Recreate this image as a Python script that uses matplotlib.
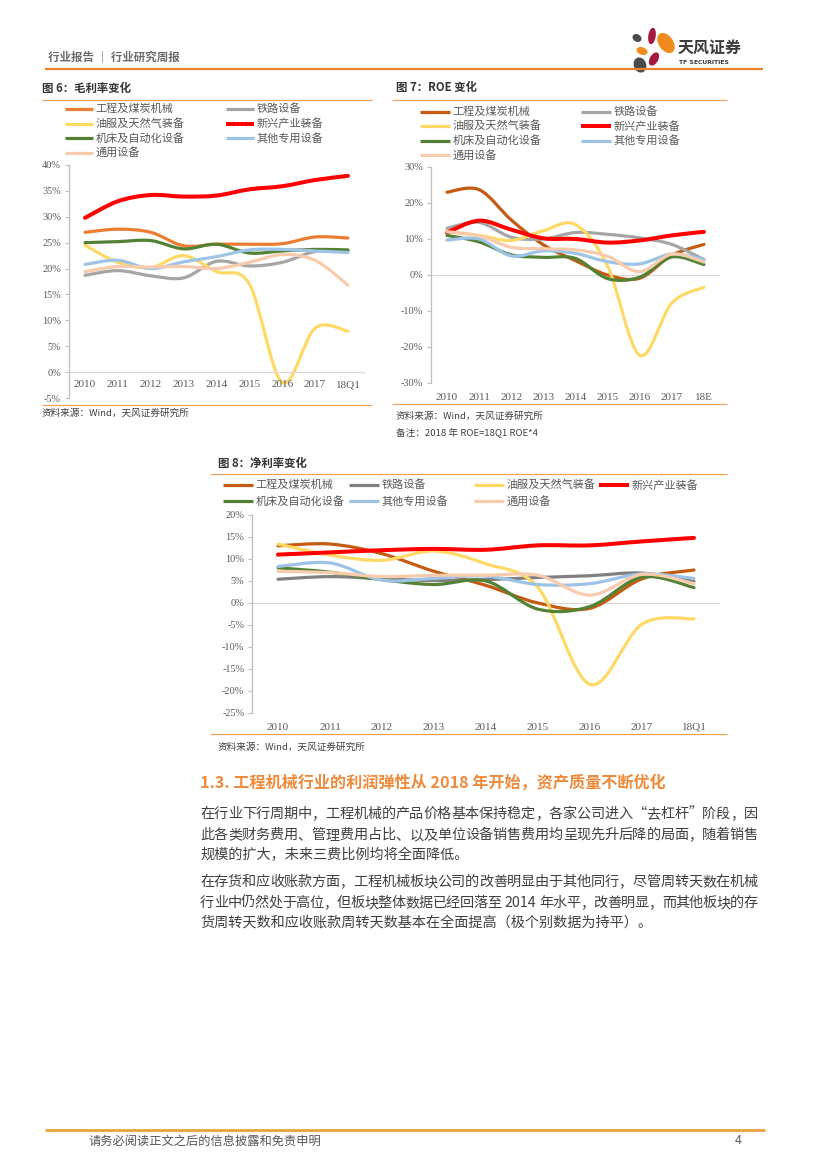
import re
import numpy as np
import matplotlib
matplotlib.use("Agg")
import matplotlib.pyplot as plt
from matplotlib.path import Path
from matplotlib.patches import PathPatch, Ellipse
from matplotlib.lines import Line2D

CJK = ['Noto Sans CJK SC', 'DejaVu Sans']
plt.rcParams['font.family'] = CJK
plt.rcParams['axes.unicode_minus'] = False

# ---------------- data ----------------
series_names = ['工程及煤炭机械', '铁路设备', '油服及天然气装备', '新兴产业装备',
                '机床及自动化设备', '其他专用设备', '通用设备']
years_gm = ['2010', '2011', '2012', '2013', '2014', '2015', '2016', '2017', '18Q1']
years_roe = ['2010', '2011', '2012', '2013', '2014', '2015', '2016', '2017', '18E']
years_npm = ['2010', '2011', '2012', '2013', '2014', '2015', '2016', '2017', '18Q1']

# 图6 毛利率 (%)
gm_gcjx = [27.0, 27.6, 27.0, 24.4, 24.7, 24.7, 24.8, 26.1, 25.9]
gm_tl = [18.7, 19.6, 18.6, 18.2, 21.4, 20.5, 21.2, 23.3, 23.5]
gm_yf = [24.5, 21.2, 20.2, 22.5, 19.4, 17.0, -2.0, 8.5, 7.9]
gm_xx = [29.8, 33.0, 34.2, 33.9, 34.1, 35.3, 35.9, 37.1, 37.9]
gm_jc = [25.0, 25.2, 25.4, 23.8, 24.7, 23.0, 23.4, 23.7, 23.6]
gm_qt = [20.8, 21.6, 20.0, 21.3, 22.3, 23.6, 23.7, 23.4, 23.1]
gm_ty = [19.4, 20.4, 20.3, 20.4, 20.0, 21.2, 22.7, 21.6, 16.8]

# 图7 ROE (%)
roe_gcjx = [23.0, 23.7, 15.3, 8.4, 4.0, 0.0, -0.9, 5.5, 8.5]
roe_tl = [13.0, 14.6, 10.5, 10.0, 11.8, 11.3, 10.3, 8.5, 4.3]
roe_yf = [12.0, 11.0, 9.6, 12.3, 14.0, 2.5, -22.3, -7.8, -3.4]
roe_xx = [11.8, 15.1, 12.6, 10.2, 10.0, 9.0, 9.6, 11.0, 12.0]
roe_jc = [11.0, 9.2, 5.6, 4.9, 4.6, -1.0, -0.6, 5.0, 2.9]
roe_qt = [9.7, 10.0, 5.3, 6.7, 6.0, 3.7, 3.1, 5.8, 4.4]
roe_ty = [12.0, 10.9, 7.7, 7.3, 7.0, 5.2, 0.9, 5.8, 3.6]

# 图8 净利率 (%)
npm_gcjx = [13.0, 13.4, 11.2, 7.2, 4.0, 0.0, -1.2, 5.5, 7.5]
npm_tl = [5.4, 6.0, 5.5, 5.1, 5.3, 5.8, 6.2, 6.8, 4.9]
npm_yf = [13.4, 10.9, 9.7, 11.8, 8.9, 3.5, -18.5, -4.8, -3.6]
npm_xx = [11.0, 11.5, 12.0, 12.3, 12.1, 13.1, 13.1, 14.0, 14.8]
npm_jc = [8.0, 7.0, 5.3, 4.2, 5.0, -1.4, -0.8, 5.9, 3.5]
npm_qt = [8.3, 9.1, 5.2, 5.6, 6.1, 4.2, 4.4, 6.6, 5.6]
npm_ty = [7.2, 6.9, 6.0, 6.3, 6.3, 6.3, 1.8, 6.5, 4.4]

yticks_gm = [-5, 0, 5, 10, 15, 20, 25, 30, 35, 40]
yticks_roe = [-30, -20, -10, 0, 10, 20, 30]
yticks_npm = [-25, -20, -15, -10, -5, 0, 5, 10, 15, 20]

# ---------------- styling ----------------
W, H = 827, 1169
fig = plt.figure(figsize=(W / 100, H / 100), dpi=100)
fig.patch.set_facecolor('white')
renderer = fig.canvas.get_renderer()

def fx(x):
    return x / W

def fy(y):
    return 1 - y / H

def hline(x0, x1, y, color, lw):
    fig.add_artist(Line2D([fx(x0), fx(x1)], [fy(y), fy(y)], color=color, lw=lw,
                          transform=fig.transFigure, solid_capstyle='butt'))

def ftext(x, y, s, **kw):
    kw.setdefault('va', 'center')
    kw.setdefault('ha', 'left')
    return fig.text(fx(x), fy(y), s, **kw)

ORANGE_LINE = '#F0A15E'
TXT = '#404040'
TICK = '#595959'

colors_a = ['#ED7D31', '#A5A5A5', '#FFD966', '#FF0000', '#548235', '#9DC3E6', '#F8CBAD']
colors_b = ['#C55A11', '#A5A5A5', '#FFD966', '#FF0000', '#548235', '#9DC3E6', '#F8CBAD']
colors_c = ['#C55A11', '#808080', '#FFD966', '#FF0000', '#548235', '#9DC3E6', '#F8CBAD']
lws = [2.3, 2.3, 2.3, 2.9, 2.3, 2.3, 2.3]


def smooth_path(xs, ys, t=1.0 / 6):
    pts = np.column_stack([xs, ys]).astype(float)
    n = len(pts)
    verts = [pts[0]]
    codes = [Path.MOVETO]
    for i in range(n - 1):
        p0 = pts[i - 1] if i > 0 else pts[i]
        p1 = pts[i]
        p2 = pts[i + 1]
        p3 = pts[i + 2] if i + 2 < n else pts[i + 1]
        verts += [p1 + (p2 - p0) * t, p2 - (p3 - p1) * t, p2]
        codes += [Path.CURVE4] * 3
    return Path(verts, codes)


def make_axes(left, top, right, bottom):
    return fig.add_axes([fx(left), fy(bottom), (right - left) / W, (bottom - top) / H])


def draw_chart(ax, cats, series, colors, yticks, labels_at_zero, xpad):
    x = np.arange(len(cats))
    for s in ['top', 'right']:
        ax.spines[s].set_visible(False)
    ax.spines['left'].set_color('#BFBFBF')
    ax.spines['left'].set_linewidth(0.9)
    if labels_at_zero:
        ax.spines['bottom'].set_position(('data', 0))
        ax.spines['bottom'].set_color('#D9D9D9')
        ax.spines['bottom'].set_linewidth(0.9)
    else:
        ax.spines['bottom'].set_visible(False)
        ax.axhline(0, color='#D9D9D9', lw=0.9, zorder=0)
    for vals, c, lw in zip(series, colors, lws):
        p = PathPatch(smooth_path(x, vals), fill=False, edgecolor=c, lw=lw,
                      capstyle='round', joinstyle='round', transform=ax.transData)
        ax.add_patch(p)
    ax.set_xlim(-0.5, len(cats) - 0.5)
    ax.set_ylim(yticks[0], yticks[-1])
    ax.set_yticks(yticks)
    ax.set_yticklabels([f'{v}%' for v in yticks], fontsize=7.4, color=TICK,
                       family=['Liberation Serif'])
    ax.set_xticks(x)
    ax.set_xticklabels(cats, fontsize=8.0, color=TICK, family=['Liberation Serif'])
    ax.tick_params(axis='y', length=3, width=0.8, color='#BFBFBF', pad=2.5)
    ax.tick_params(axis='x', length=0, pad=xpad)
    ax.patch.set_alpha(0)


def legend_entry(x, y, color, lw, label, length=28):
    fig.add_artist(Line2D([fx(x), fx(x + length)], [fy(y), fy(y)], color=color, lw=lw,
                          transform=fig.transFigure, solid_capstyle='butt'))
    ftext(x + length + 2.5, y, label, fontsize=8.0, color=TICK)


# ---------------- header ----------------
ftext(48, 57, '行业报告 ｜ 行业研究周报', fontsize=8.3, color='#6A6A6A', weight='bold')
hline(45, 763, 69, '#E8822F', 1.6)

logo_ax = fig.add_axes([fx(620), fy(78), 60 / W, 56 / H])
logo_ax.set_xlim(0, 60)
logo_ax.set_ylim(56, 0)
logo_ax.axis('off')
for (cx, cy, w, h, ang, col) in [
        (17, 16, 8, 6, 30, '#4A4A4A'),
        (32, 14, 6, 15, 8, '#A6193C'),
        (46, 21, 13, 21, -35, '#F08C1E'),
        (22, 29, 10, 6, 20, '#F08C1E'),
        (34, 37, 7, 13, 30, '#A6193C'),
        (20, 43, 11, 14, -20, '#4A4A4A')]:
    logo_ax.add_patch(Ellipse((cx, cy), w, h, angle=ang, color=col))
ftext(678, 48, '天风证券', fontsize=11.5, color='#3A3A3A', weight='bold')
ftext(679, 63, 'TF SECURITIES', fontsize=4.4, color='#3A3A3A', weight='bold',
      family=['DejaVu Sans'])

# ---------------- 图6 ----------------
ftext(42, 88, '图 6：毛利率变化', fontsize=8.2, color='#333333', weight='bold')
hline(42, 372, 100, ORANGE_LINE, 0.9)
ax6 = make_axes(68.6, 165, 364.4, 398)
draw_chart(ax6, years_gm, [gm_gcjx, gm_tl, gm_yf, gm_xx, gm_jc, gm_qt, gm_ty],
           colors_a, yticks_gm, True, 6)
rows6 = [109, 123.5, 138, 152.5]
order6 = [(0, 0, 0), (1, 0, 1), (2, 1, 0), (3, 1, 1), (4, 2, 0), (5, 2, 1), (6, 3, 0)]
for k, r, c in order6:
    legend_entry([65, 226][c], rows6[r], colors_a[k], lws[k], series_names[k])
hline(42, 372, 405, ORANGE_LINE, 0.9)
ftext(42, 413, '资料来源：Wind，天风证券研究所', fontsize=6.9, color=TXT)

# ---------------- 图7 ----------------
ftext(396, 88, '图 7：ROE 变化', fontsize=8.2, color='#333333', weight='bold')
hline(392, 727, 100, ORANGE_LINE, 0.9)
ax7 = make_axes(430.9, 167, 720, 383)
draw_chart(ax7, years_roe, [roe_gcjx, roe_tl, roe_yf, roe_xx, roe_jc, roe_qt, roe_ty],
           colors_b, yticks_roe, False, 7)
rows7 = [112, 126, 140.5, 155]
for k, r, c in order6:
    legend_entry([420, 581][c], rows7[r], colors_b[k], lws[k], series_names[k], length=30)
hline(392, 727, 404, ORANGE_LINE, 0.9)
ftext(396, 416, '资料来源：Wind，天风证券研究所', fontsize=6.9, color=TXT)
ftext(396, 432, '备注：2018 年 ROE=18Q1 ROE*4', fontsize=6.9, color=TXT)

# ---------------- 图8 ----------------
ftext(218, 463, '图 8：净利率变化', fontsize=8.2, color='#333333', weight='bold')
hline(210, 727, 474, ORANGE_LINE, 0.9)
ax8 = make_axes(252, 515, 720, 713)
draw_chart(ax8, years_npm, [npm_gcjx, npm_tl, npm_yf, npm_xx, npm_jc, npm_qt, npm_ty],
           colors_c, yticks_npm, False, 7)
cols8 = [223, 349, 474, 599]
order8 = [(0, 0, 0), (1, 0, 1), (2, 0, 2), (3, 0, 3), (4, 1, 0), (5, 1, 1), (6, 1, 2)]
rows8 = [485, 501]
for k, r, c in order8:
    legend_entry(cols8[c], rows8[r], colors_c[k], lws[k], series_names[k], length=30)
hline(210, 727, 734, ORANGE_LINE, 0.9)
ftext(218, 747, '资料来源：Wind，天风证券研究所', fontsize=6.9, color=TXT)

# ---------------- body text ----------------
ftext(200, 783, '1.3. 工程机械行业的利润弹性从 2018 年开始，资产质量不断优化',
      fontsize=11.6, color='#EE8A3A', weight='bold')

BODY_FS = 10.2


def place_line(text, x0, y, x1=None):
    if x1 is None:
        ftext(x0, y, text, fontsize=BODY_FS, color=TXT)
        return
    tokens = re.findall(r'[A-Za-z0-9.]+| |.', text)
    widths = []
    for tok in tokens:
        if tok == ' ':
            widths.append(BODY_FS * 100 / 72 * 0.28)
            continue
        t = fig.text(0, 0, tok, fontsize=BODY_FS)
        widths.append(t.get_window_extent(renderer).width)
        t.remove()
    extra = (x1 - x0 - sum(widths)) / max(len(tokens) - 1, 1)
    xc = x0
    for tok, w in zip(tokens, widths):
        if tok != ' ':
            ftext(xc, y, tok, fontsize=BODY_FS, color=TXT)
        xc += w + extra


p1 = ['在行业下行周期中，工程机械的产品价格基本保持稳定，各家公司进入“去杠杆”阶段，因',
      '此各类财务费用、管理费用占比、以及单位设备销售费用均呈现先升后降的局面，随着销售',
      '规模的扩大，未来三费比例均将全面降低。']
p2 = ['在存货和应收账款方面，工程机械板块公司的改善明显由于其他同行，尽管周转天数在机械',
      '行业中仍然处于高位，但板块整体数据已经回落至 2014 年水平，改善明显，而其他板块的存',
      '货周转天数和应收账款周转天数基本在全面提高（极个别数据为持平）。']
for i, (line, y) in enumerate(zip(p1, [814, 835, 855])):
    place_line(line, 200, y, 758 if i < 2 else None)
for i, (line, y) in enumerate(zip(p2, [882, 903, 923])):
    place_line(line, 200, y, 758 if i < 2 else None)

# ---------------- footer ----------------
hline(45, 765, 1130, '#EBA13E', 2.0)
ftext(88, 1141, '请务必阅读正文之后的信息披露和免责申明', fontsize=8.8, color='#555555')
ftext(735, 1141, '4', fontsize=8.8, color='#555555', family=['Liberation Sans'])

fig.savefig('out.png', dpi=100)
